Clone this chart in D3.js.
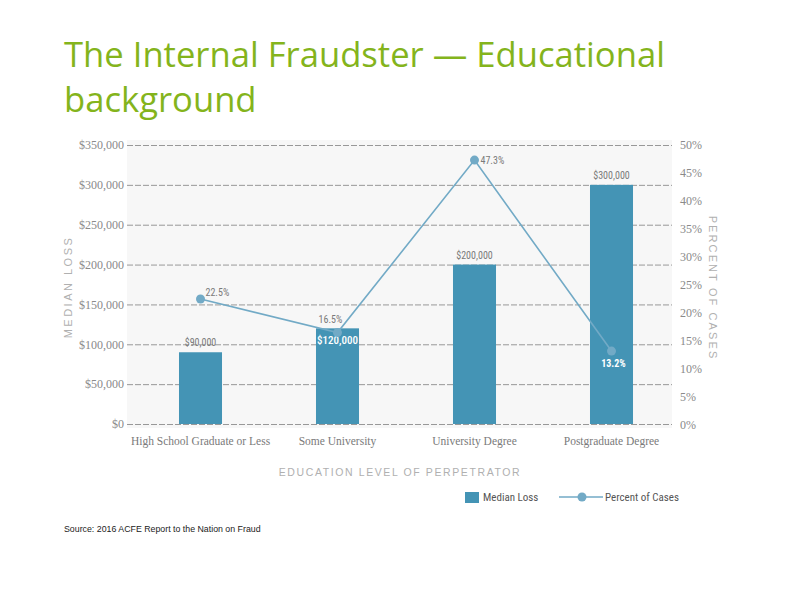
<!DOCTYPE html>
<html>
<head>
<meta charset="utf-8">
<script src="https://cdn.jsdelivr.net/npm/d3@7"></script>
<style>
  body { margin: 0; background: #fff; }
  svg { display: block; }
</style>
</head>
<body>
<div class="chart"></div>
<script>
// chart data
var categories = ["High School Graduate or Less", "Some University", "University Degree", "Postgraduate Degree"];
var medianLoss = [90000, 120000, 200000, 300000];
var lossLabels = ["$90,000", "$120,000", "$200,000", "$300,000"];
var percentCases = [22.5, 16.5, 47.3, 13.2];
var lossTicks = [0, 50000, 100000, 150000, 200000, 250000, 300000, 350000];
var pctTicks = [0, 5, 10, 15, 20, 25, 30, 35, 40, 45, 50];

var svgWidth = 792;
var svgHeight = 612;

var barColor = "#4494b5";
var lineColor = "#72aac6";
var sansNarrow = "'Liberation Sans Narrow', 'Roboto Condensed', Roboto, sans-serif";
var serif = "'Liberation Serif', 'DejaVu Serif', serif";

var svg = d3.select(".chart")
  .append("svg")
  .attr("width", svgWidth)
  .attr("height", svgHeight);

// plot box
var plot = { left: 127, right: 672, top: 145, bottom: 424 };

var x = d3.scaleBand()
  .domain(categories)
  .range([132, 680])
  .paddingInner(0.686)
  .paddingOuter(0.343);

var yLoss = d3.scaleLinear()
  .domain([0, 350000])
  .range([plot.bottom, plot.top]);

var yPct = d3.scaleLinear()
  .domain([0, 50])
  .range([plot.bottom + 1, plot.top]);

// ============ Title ============
var title1 = svg.append("text")
  .attr("x", 64)
  .attr("y", 67)
  .attr("font-family", "'Open Sans', sans-serif")
  .attr("font-size", 32)
  .attr("fill", "#84b41c")
  .text("The Internal Fraudster \u2014 Educational");

// squeeze the title to the width it has in the slide
var w = title1.node().getComputedTextLength();
var fs = 32 * 601 / w;
title1.attr("font-size", fs);

svg.append("text")
  .attr("x", 64)
  .attr("y", 112)
  .attr("font-family", "'Open Sans', sans-serif")
  .attr("font-size", fs)
  .attr("fill", "#84b41c")
  .text("background");

// ============ Plot background + grid ============
svg.append("rect")
  .attr("x", plot.left)
  .attr("y", plot.top - 5)
  .attr("width", plot.right - plot.left)
  .attr("height", plot.bottom - plot.top + 9)
  .attr("fill", "#f7f7f7");

var leftAxis = d3.axisLeft(yLoss)
  .tickValues(lossTicks)
  .tickSize(-(plot.right - plot.left))
  .tickPadding(3)
  .tickFormat(d => "$" + d3.format(",")(d));

var gLeft = svg.append("g")
  .attr("transform", `translate(${plot.left}, 0)`)
  .call(leftAxis);

gLeft.select(".domain").remove();
gLeft.selectAll(".tick line")
  .attr("stroke", "#7f7f7f")
  .attr("stroke-width", 0.8)
  .attr("stroke-dasharray", "6,2");
gLeft.selectAll(".tick text")
  .attr("font-family", serif)
  .attr("font-size", 12)
  .attr("fill", "#8a8a8a");

var rightAxis = d3.axisRight(yPct)
  .tickValues(pctTicks)
  .tickSize(0)
  .tickPadding(8)
  .tickFormat(d => d + "%");

var gRight = svg.append("g")
  .attr("transform", `translate(${plot.right}, 0)`)
  .call(rightAxis);

gRight.select(".domain").remove();
gRight.selectAll(".tick text")
  .attr("font-family", serif)
  .attr("font-size", 12)
  .attr("fill", "#8a8a8a");

// ============ Bars ============
svg.selectAll(".bar")
  .data(medianLoss)
  .enter()
  .append("rect")
  .attr("class", "bar")
  .attr("x", (d, i) => x(categories[i]))
  .attr("y", d => yLoss(d))
  .attr("width", x.bandwidth())
  .attr("height", d => yLoss(0) - yLoss(d))
  .attr("fill", barColor);

// bar value labels: second one sits inside the bar in white
svg.selectAll(".loss-label")
  .data(medianLoss)
  .enter()
  .append("text")
  .attr("class", "loss-label")
  .attr("x", (d, i) => x(categories[i]) + x.bandwidth() / 2)
  .attr("y", (d, i) => i === 1 ? yLoss(d) + 16 : yLoss(d) - 6)
  .attr("text-anchor", "middle")
  .attr("font-family", sansNarrow)
  .attr("font-size", (d, i) => i === 1 ? 11 : 10)
  .attr("font-weight", (d, i) => i === 1 ? 500 : "normal")
  .attr("fill", (d, i) => i === 1 ? "#ffffff" : "#7a7a7a")
  .text((d, i) => lossLabels[i]);

// ============ Line ============
var cx = (d, i) => x(categories[i]) + x.bandwidth() / 2;

var line = d3.line()
  .x((d, i) => cx(d, i))
  .y(d => yPct(d));

svg.append("path")
  .datum(percentCases)
  .attr("d", line)
  .attr("fill", "none")
  .attr("stroke", lineColor)
  .attr("stroke-width", 1.6);

svg.selectAll(".pt")
  .data(percentCases)
  .enter()
  .append("circle")
  .attr("class", "pt")
  .attr("cx", cx)
  .attr("cy", d => yPct(d))
  .attr("r", 4.5)
  .attr("fill", lineColor);

// percent labels, placed around each point
var pctDx = [5, -7, 6, 2];
var pctDy = [-3, -10, 4, 16];
var pctAnchor = ["start", "middle", "start", "middle"];

svg.selectAll(".pct-label")
  .data(percentCases)
  .enter()
  .append("text")
  .attr("class", "pct-label")
  .attr("x", (d, i) => cx(d, i) + pctDx[i])
  .attr("y", (d, i) => yPct(d) + pctDy[i])
  .attr("text-anchor", (d, i) => pctAnchor[i])
  .attr("font-family", sansNarrow)
  .attr("font-size", 10)
  .attr("font-weight", (d, i) => i === 3 ? "bold" : "normal")
  .attr("fill", (d, i) => i === 3 ? "#ffffff" : "#7a7a7a")
  .text(d => d + "%");

// ============ X labels ============
svg.selectAll(".cat-label")
  .data(categories)
  .enter()
  .append("text")
  .attr("class", "cat-label")
  .attr("x", d => x(d) + x.bandwidth() / 2)
  .attr("y", 445)
  .attr("text-anchor", "middle")
  .attr("font-family", serif)
  .attr("font-size", 11.5)
  .attr("fill", "#7a7a7a")
  .text(d => d);

// ============ Axis titles ============
svg.append("text")
  .attr("transform", "translate(72, 287) rotate(-90)")
  .attr("text-anchor", "middle")
  .attr("font-family", "'Liberation Sans', Arial, sans-serif")
  .attr("font-size", 11)
  .attr("letter-spacing", 2.5)
  .attr("fill", "#b0b0b0")
  .text("MEDIAN LOSS");

svg.append("text")
  .attr("transform", "translate(709, 288) rotate(90)")
  .attr("text-anchor", "middle")
  .attr("font-family", "'Liberation Sans', Arial, sans-serif")
  .attr("font-size", 11)
  .attr("letter-spacing", 2.1)
  .attr("fill", "#b0b0b0")
  .text("PERCENT OF CASES");

svg.append("text")
  .attr("x", 400)
  .attr("y", 476)
  .attr("text-anchor", "middle")
  .attr("font-family", "'Liberation Sans', Arial, sans-serif")
  .attr("font-size", 10.5)
  .attr("letter-spacing", 1.6)
  .attr("fill", "#b0b0b0")
  .text("EDUCATION LEVEL OF PERPETRATOR");

// ============ Legend ============
var legend = svg.append("g");

legend.append("rect")
  .attr("x", 465)
  .attr("y", 492)
  .attr("width", 14)
  .attr("height", 11)
  .attr("fill", barColor);

legend.append("text")
  .attr("x", 483)
  .attr("y", 501)
  .attr("font-family", sansNarrow)
  .attr("font-size", 11)
  .attr("fill", "#555")
  .text("Median Loss");

legend.append("line")
  .attr("x1", 559)
  .attr("x2", 603)
  .attr("y1", 497)
  .attr("y2", 497)
  .attr("stroke", lineColor)
  .attr("stroke-width", 1.6);

legend.append("circle")
  .attr("cx", 582)
  .attr("cy", 497)
  .attr("r", 4.5)
  .attr("fill", lineColor);

legend.append("text")
  .attr("x", 605)
  .attr("y", 501)
  .attr("font-family", sansNarrow)
  .attr("font-size", 11)
  .attr("fill", "#555")
  .text("Percent of Cases");

// ============ Source ============
svg.append("text")
  .attr("x", 64)
  .attr("y", 532)
  .attr("font-family", "'Liberation Sans', Arial, sans-serif")
  .attr("font-size", 8.8)
  .attr("fill", "#222")
  .text("Source: 2016 ACFE Report to the Nation on Fraud");
</script>
</body>
</html>
